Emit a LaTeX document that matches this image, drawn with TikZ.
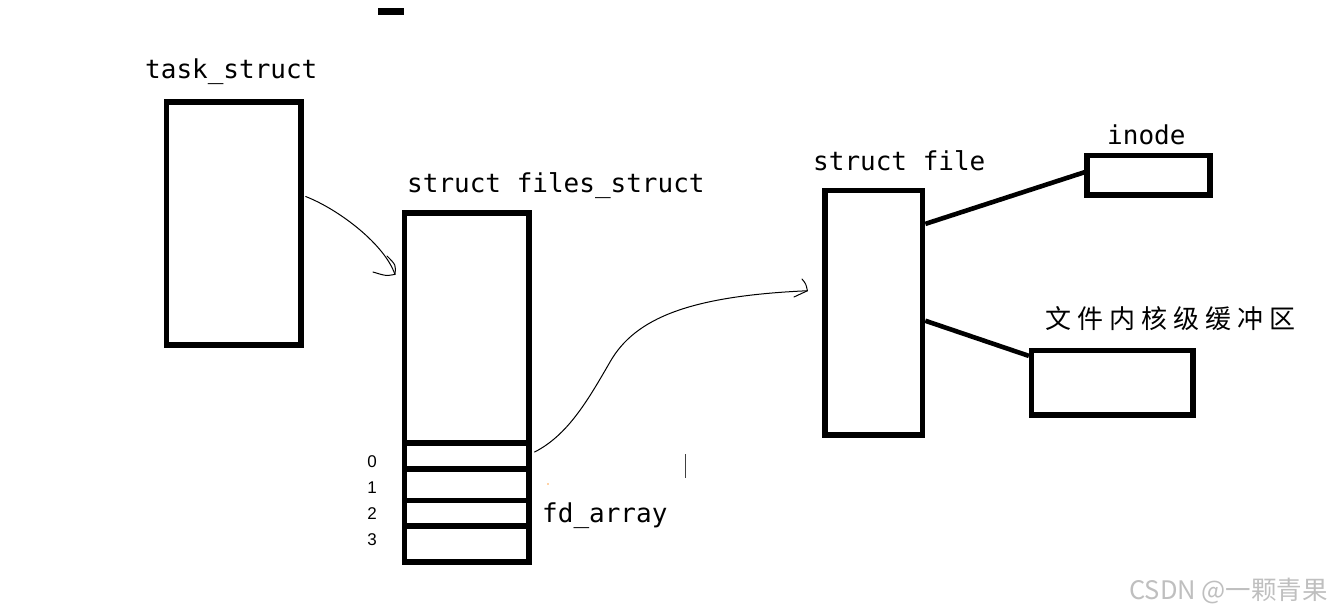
\documentclass[tikz,border=0pt]{standalone}
\usepackage{fontspec}
\setmonofont{DejaVu Sans Mono}
\newfontfamily\cjkspaced[LetterSpace=23]{Noto Sans CJK SC}
\newfontfamily\cjkplain{Noto Sans CJK SC}
\newfontfamily\arialish{Liberation Sans}
\usetikzlibrary{calc}
\begin{document}
\begin{tikzpicture}[x=1pt,y=-1pt,
  box/.style={draw,line width=5.2pt,inner sep=0pt},
  link/.style={line width=4.6pt},
  hand/.style={line width=1pt,line cap=round,line join=round},
  monolbl/.style={anchor=base west,inner sep=0pt,font=\ttfamily\fontsize{26}{30}\selectfont},
  idx/.style={anchor=base,inner sep=0pt,font=\arialish\fontsize{17}{19}\selectfont}]
\useasboundingbox (0,0) rectangle (1335,613);
% small bar at top
\fill (378,8) rectangle (404,15);
% boxes
\node[box,minimum width=134.5pt,minimum height=243pt] (task) at (233.8,223.5) {};
\node[box,minimum width=124.5pt,minimum height=349pt] (files) at (466.75,387.5) {};
\node[box,minimum width=124.5pt,minimum height=26pt] (cell0) at (466.75,456) {};
\node[box,minimum width=124.5pt,minimum height=31.5pt] (cell1) at (466.75,484.75) {};
\node[box,minimum width=124.5pt,minimum height=25.5pt] (cell2) at (466.75,513.25) {};
\node[box,minimum width=124.5pt,minimum height=36pt] (cell3) at (466.75,544) {};
\node[box,minimum width=97.7pt,minimum height=244.5pt] (sfile) at (873.85,312.75) {};
\node[box,minimum width=123pt,minimum height=39.5pt] (inode) at (1148.5,175.25) {};
\node[box,minimum width=161.5pt,minimum height=64.5pt] (buf) at (1112.25,382.75) {};
% labels
\node[monolbl] (tasklbl) at (145,78) {task\_struct};
\node[monolbl] (fileslbl) at (407,192) {struct files\_struct};
\node[monolbl] (sfilelbl) at (813,170) {struct file};
\node[monolbl] (inodelbl) at (1107,144) {inode};
\node[monolbl] (fdlbl) at (542,522) {fd\_array};
\node[anchor=base west,inner sep=0pt] (buflbl) at (1045,328) {\cjkspaced\fontsize{26}{30}\selectfont 文件内核级缓冲区};
\node[idx] (n0) at (372,467) {0};
\node[idx] (n1) at (372,493) {1};
\node[idx] (n2) at (372,519) {2};
\node[idx] (n3) at (372,545) {3};
% thick links
\draw[link] ($(sfile.north east)+(0,36)$) -- ($(inode.west)+(0,-3)$);
\draw[link] ($(sfile.east)+(0,8)$) -- ($(buf.north west)+(0,8)$);
% hand-drawn arrow 1: task_struct -> files_struct
\coordinate (s1) at ($(task.east)+(2,-27)$);
\coordinate (t1) at ($(files.north west)+(-7,64)$);
\draw[hand] (s1) .. controls (340,210) and (385,245) .. (t1);
\draw[hand] (t1) .. controls (386,276) .. (373,272);
\draw[hand] (t1) .. controls (396,265) .. (387,256);
% hand-drawn arrow 2: fd 0 -> struct file
\coordinate (s2) at ($(cell0.east)+(3,-4)$);
\coordinate (m2) at (610,362);
\coordinate (t2) at ($(sfile.west)+(-15,-22)$);
\draw[hand] (s2) .. controls (568,435) and (588,400) .. (m2)
  .. controls (635,318) and (690,296) .. (t2);
\draw[hand] (t2) -- (794,297);
\draw[hand] (t2) .. controls (806,284) .. (802,279);
% stray marks
\draw[line width=1pt,black!75] (685,454) -- (685,478);
\fill[orange!70] (548,484) circle (0.8);
% watermark
\node[anchor=base east,inner sep=0pt,text=black!25] (wm) at (1328,599) {\cjkplain\fontsize{25.5}{28}\selectfont CSDN @一颗青果};
\end{tikzpicture}
\end{document}
